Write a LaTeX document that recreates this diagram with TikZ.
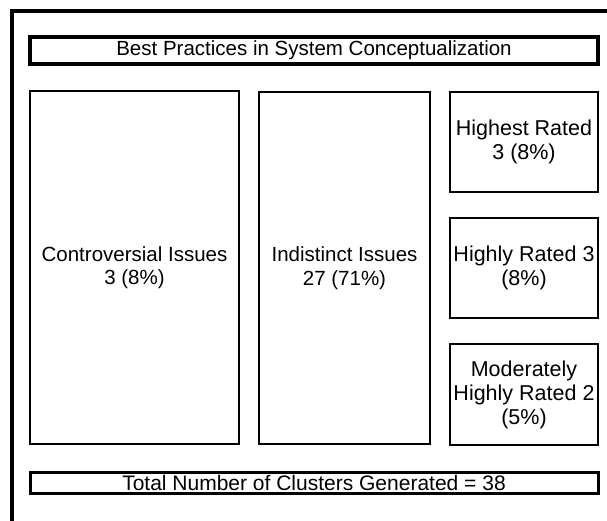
\documentclass[tikz,border=0pt]{standalone}
\usepackage{fontspec}
\setmainfont{Liberation Sans}
\begin{document}
\begin{tikzpicture}[x=1pt,y=-1pt,
  box/.style={draw=black, line width=2.5pt, rectangle, align=center, inner sep=0pt, outer sep=0pt, font=\fontsize{20.5}{23.5}\selectfont},
  smallbox/.style={box, font=\fontsize{21.5}{24}\selectfont},
  bandbox/.style={draw=black, line width=4pt, rectangle, align=center, inner sep=0pt, outer sep=0pt, font=\fontsize{20.5}{23.5}\selectfont}]
\useasboundingbox (0,0) rectangle (607,520);
\begin{scope}
\clip (0,0) rectangle (607,520);
\draw[line width=4pt] (12,11) rectangle (640,560);
\end{scope}
\node[bandbox, minimum width=568, minimum height=27] (title) at (314,50.5) {Best Practices in System Conceptualization};
\node[box, minimum width=209, minimum height=353] (contro) at (134.5,267.5) {Controversial Issues\\3 (8\%)};
\node[box, minimum width=171, minimum height=352] (indist) at (344.5,268) {Indistinct Issues\\27 (71\%)};
\node[smallbox, minimum width=148, minimum height=100] (highest) at (524,142) {Highest Rated\\3 (8\%)};
\node[smallbox, minimum width=148, minimum height=100] (highly) at (524,268) {Highly Rated 3\\(8\%)};
\node[smallbox, minimum width=148, minimum height=101] (moder) at (524,394.5) {Moderately\\Highly Rated 2\\(5\%)};
\node[box, line width=3pt, font=\fontsize{21}{24}\selectfont, minimum width=568, minimum height=21] (total) at (314,482.5) {Total Number of Clusters Generated = 38};
\end{tikzpicture}
\end{document}
